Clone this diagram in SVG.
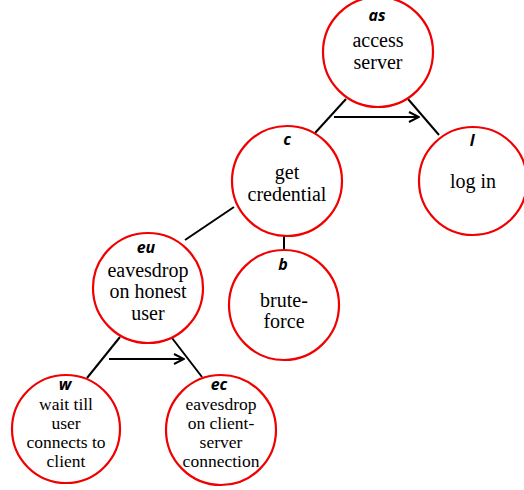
<svg xmlns="http://www.w3.org/2000/svg" width="524" height="490" viewBox="0 0 524 490">
<defs>
<marker id="arr" viewBox="0 0 12 12" refX="11" refY="6" markerWidth="12" markerHeight="12" markerUnits="userSpaceOnUse" orient="auto">
<path d="M1,1 L11,6 L1,11" fill="none" stroke="#000" stroke-width="2"/>
</marker>
<style>
.n{fill:#fff;stroke:#f00000;stroke-width:2.2}
.lb{font-family:"Open Sans",sans-serif;font-weight:bold;font-style:italic;font-size:16px;text-anchor:middle;fill:#000}
.t{font-size:20px;text-anchor:middle;fill:#000}
.s{font-size:17.5px;text-anchor:middle;fill:#000}
.e{stroke:#000;stroke-width:2;fill:none}
</style>
</defs>
<rect width="524" height="490" fill="#fff"/>
<g id="connectors">
<line class="e" x1="346" y1="99" x2="315" y2="133"/>
<line class="e" x1="408" y1="99" x2="439" y2="135"/>
<line class="e" x1="334" y1="117" x2="419" y2="117" marker-end="url(#arr)"/>
<line class="e" x1="234" y1="207" x2="185" y2="240"/>
<line class="e" x1="284" y1="236" x2="284" y2="252"/>
<line class="e" x1="120" y1="337" x2="87" y2="378"/>
<line class="e" x1="172" y1="338" x2="202" y2="377"/>
<line class="e" x1="109" y1="359" x2="184" y2="359" marker-end="url(#arr)"/>
</g>
<g font-family="Liberation Serif, Times New Roman, serif">
<g id="as">
<circle class="n" cx="378" cy="52" r="55"/>
<text class="lb" x="377" y="21">as</text>
<text class="t" x="378" y="47">access</text>
<text class="t" x="378" y="69">server</text>
</g>
<g id="l">
<circle class="n" cx="473" cy="181" r="54"/>
<text class="lb" x="472" y="146">l</text>
<text class="t" x="473" y="188">log in</text>
</g>
<g id="c">
<circle class="n" cx="287" cy="181" r="55"/>
<text class="lb" x="287" y="145">c</text>
<text class="t" x="287" y="179">get</text>
<text class="t" x="287" y="201">credential</text>
</g>
<g id="b">
<circle class="n" cx="284" cy="305" r="55"/>
<text class="lb" x="283" y="270">b</text>
<text class="t" x="284" y="307">brute-</text>
<text class="t" x="284" y="328">force</text>
</g>
<g id="eu">
<circle class="n" cx="148" cy="288" r="55"/>
<text class="lb" x="146" y="253">eu</text>
<text class="t" x="148" y="277">eavesdrop</text>
<text class="t" x="148" y="298">on honest</text>
<text class="t" x="148" y="320">user</text>
</g>
<g id="w">
<circle class="n" cx="66" cy="429" r="54"/>
<text class="lb" x="65" y="390">w</text>
<text class="s" x="66" y="410">wait till</text>
<text class="s" x="66" y="429">user</text>
<text class="s" x="66" y="448">connects to</text>
<text class="s" x="66" y="467">client</text>
</g>
<g id="ec">
<circle class="n" cx="221" cy="430" r="55"/>
<text class="lb" x="219" y="390">ec</text>
<text class="s" x="221" y="410">eavesdrop</text>
<text class="s" x="221" y="429">on client-</text>
<text class="s" x="221" y="448">server</text>
<text class="s" x="221" y="467">connection</text>
</g>
</g>
</svg>
